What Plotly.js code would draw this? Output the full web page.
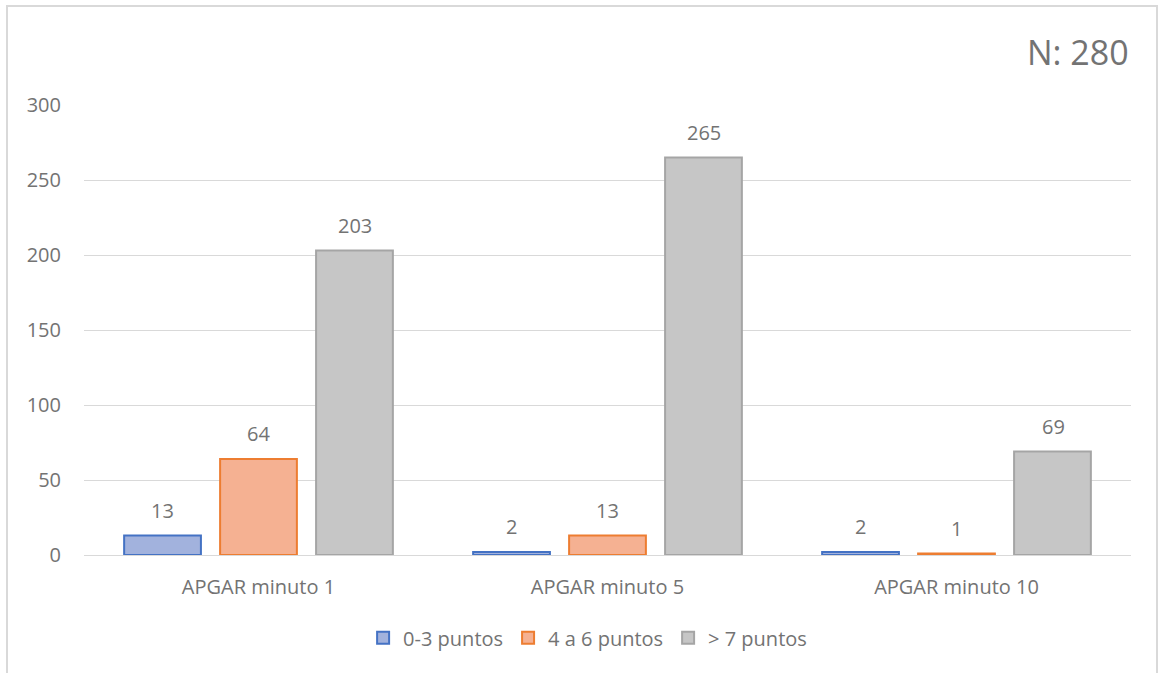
<!DOCTYPE html>
<html><head><meta charset="utf-8">
<script src="https://cdn.plot.ly/plotly-3.0.1.min.js"></script>
<style>html,body{margin:0;padding:0;background:#fff}#c{width:1162px;height:673px}</style>
</head><body><div id="c"></div>
<script>
const categories = ["APGAR minuto 1", "APGAR minuto 5", "APGAR minuto 10"];
const seriesNames = ["0-3 puntos", "4 a 6 puntos", "> 7 puntos"];
const v03 = [13, 2, 2];
const v46 = [64, 13, 1];
const v7 = [203, 265, 69];
const yTicks = [0, 50, 100, 150, 200, 250, 300];
const nLabel = "N: 280";

const fills = ["#a2b2dd", "#f5b192", "#c6c6c6"];
const lines = ["#4472c4", "#ed7d31", "#a5a5a5"];
const vals = [v03, v46, v7];
const font = "Open Sans, Noto Sans, sans-serif";
const txt = "#737373";

const traces = vals.map((v, i) => ({
  type: "bar", x: categories, y: v, name: seriesNames[i],
  marker: {color: fills[i], line: {color: lines[i], width: 2}},
  hoverinfo: "x+y"
}));

const labelAnns = [];
vals.forEach((v, i) => {
  v.forEach((val, j) => {
    labelAnns.push({xref: "x", yref: "y", x: categories[j], y: val,
      xshift: (i - 1) * 96.5, yshift: 10, yanchor: "bottom", xanchor: "center",
      text: String(val), showarrow: false,
      font: {family: font, size: 20, color: txt}});
  });
});

const layout = {
  width: 1162, height: 673,
  margin: {l: 84, r: 31, t: 105, b: 118},
  paper_bgcolor: "#fff", plot_bgcolor: "#fff",
  barmode: "group", bargap: 0.175, bargroupgap: 0.2,
  font: {family: font, color: txt, size: 20},
  xaxis: {showgrid: false, ticks: "", showline: false, zeroline: false,
          tickfont: {size: 20, color: txt}, ticklabelstandoff: 18},
  yaxis: {range: [0, 300], tickvals: yTicks, ticktext: yTicks.map(String),
          showgrid: true, gridcolor: "#d9d9d9", gridwidth: 1,
          zeroline: true, zerolinecolor: "#d9d9d9", zerolinewidth: 1,
          showline: false, ticks: "", tickfont: {size: 20, color: txt},
          ticklabelstandoff: 22},
  legend: {orientation: "h", x: 0.481, xanchor: "center", y: -0.184, yanchor: "middle",
           font: {size: 20, color: txt}, itemclick: false, traceorder: "normal",
           itemwidth: 30},
  showlegend: true,
  annotations: labelAnns.concat([{xref: "paper", yref: "paper", x: 1.0, xanchor: "right",
                 y: (555 - 52) / 450, yanchor: "middle", text: nLabel, showarrow: false,
                 font: {size: 34, color: txt, family: font}}]),
  shapes: [{type: "rect", xref: "paper", yref: "paper", layer: "below",
            x0: (7 - 84) / 1047, x1: (1157 - 84) / 1047,
            y0: -0.4, y1: (555 - 6) / 450,
            line: {color: "#d9d9d9", width: 2}, fillcolor: "rgba(0,0,0,0)"}]
};
Plotly.newPlot("c", traces, layout, {displayModeBar: false, staticPlot: true});
</script></body></html>
